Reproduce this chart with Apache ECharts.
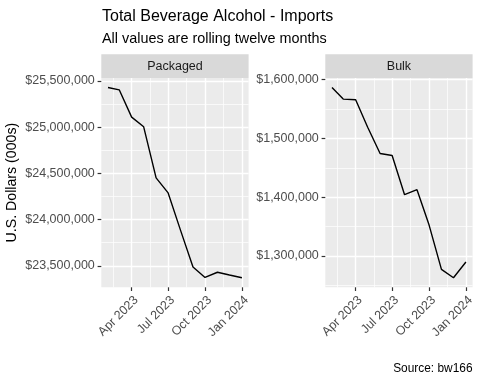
<!DOCTYPE html>
<html><head><meta charset="utf-8">
<script src="https://cdn.jsdelivr.net/npm/echarts@6/dist/echarts.min.js"></script>
<style>html,body{margin:0;padding:0;background:#fff}#c{width:480px;height:384px}</style>
</head><body><div id="c"></div>
<script>
// ---- data ----
const months = ['2023-02-01','2023-03-01','2023-04-01','2023-05-01','2023-06-01','2023-07-01',
                '2023-08-01','2023-09-01','2023-10-01','2023-11-01','2023-12-01','2024-01-01'];
const packaged = [25428000, 25403000, 25108000, 25003000, 24450000, 24288000,
                  23883000, 23486000, 23374000, 23430000, 23400000, 23370000];
const bulk = [1586700, 1567000, 1566000, 1519000, 1474400, 1471000,
              1404300, 1412800, 1353000, 1277200, 1262900, 1289700];
const xTickDates = ['2023-04-01','2023-07-01','2023-10-01','2024-01-01'];
const xTickLabels = ['Apr 2023','Jul 2023','Oct 2023','Jan 2024'];
const packagedTicks = [23500000, 24000000, 24500000, 25000000, 25500000];
const bulkTicks = [1300000, 1400000, 1500000, 1600000];
const facetNames = ['Packaged', 'Bulk'];

// ---- helpers ----
const FONT = 'Liberation Sans, Arial, Helvetica, sans-serif';
const AX = 12.5;
const t = s => Date.parse(s);
const xs = months.map(t);
const xTicks = xTickDates.map(t);
function expand(vals) {
  const lo = Math.min(...vals), hi = Math.max(...vals), r = hi - lo;
  return [lo - 0.05 * r, hi + 0.05 * r];
}
function minors(major, lo, hi) {
  const out = [];
  const step = major[1] - major[0];
  const ext = [major[0] - step].concat(major, [major[major.length - 1] + step]);
  for (let i = 0; i < ext.length - 1; i++) {
    const m = (ext[i] + ext[i + 1]) / 2;
    if (m >= lo && m <= hi) out.push(m);
  }
  return out;
}
const [xLo, xHi] = expand(xs);
const xMinor = minors(xTicks, xLo, xHi);
const money = v => '$' + Math.round(v).toLocaleString('en-US');

const panels = [
  { left: 101.3, vals: packaged, ticks: packagedTicks },
  { left: 325.3, vals: bulk, ticks: bulkTicks }
];
const PW = 147.3, PT = 78, PH = 209.3;

const grid = [], xAxis = [], yAxis = [], series = [], graphic = [];
panels.forEach((p, i) => {
  grid.push({ left: p.left, top: PT, width: PW, height: PH, show: true,
    backgroundColor: '#EBEBEB', borderWidth: 0, containLabel: false, outerBoundsMode: 'none' });
  const [yLo, yHi] = expand(p.vals);
  const yMinor = minors(p.ticks, yLo, yHi);
  // minor axes (grid lines only)
  xAxis.push({ type: 'value', gridIndex: i, min: xLo, max: xHi, position: 'bottom',
    axisLine: { show: false }, axisLabel: { show: false, customValues: xMinor },
    axisTick: { show: false, customValues: xMinor },
    splitLine: { show: true, lineStyle: { color: '#FFFFFF', width: 0.7 } }, z: 0 });
  yAxis.push({ type: 'value', gridIndex: i, min: yLo, max: yHi, position: 'left',
    axisLine: { show: false }, axisLabel: { show: false, customValues: yMinor },
    axisTick: { show: false, customValues: yMinor },
    splitLine: { show: true, lineStyle: { color: '#FFFFFF', width: 0.7 } }, z: 0 });
  // major axes
  xAxis.push({ type: 'value', gridIndex: i, min: xLo, max: xHi, position: 'bottom',
    axisLine: { show: false },
    axisTick: { show: true, length: 3.7, customValues: xTicks, lineStyle: { color: '#333333', width: 1.2 } },
    axisLabel: { show: true, customValues: xTicks, rotate: 45, margin: 6.3,
      align: 'right', verticalAlign: 'top',
      color: '#4D4D4D', fontSize: AX, fontFamily: FONT,
      formatter: v => { const k = xTicks.indexOf(v); return k >= 0 ? xTickLabels[k] : ''; } },
    splitLine: { show: true, lineStyle: { color: '#FFFFFF', width: 1.4 } }, z: 1 });
  yAxis.push({ type: 'value', gridIndex: i, min: yLo, max: yHi, position: 'left',
    axisLine: { show: false },
    axisTick: { show: true, length: 3.7, customValues: p.ticks, lineStyle: { color: '#333333', width: 1.2 } },
    axisLabel: { show: true, customValues: p.ticks, margin: 6.5,
      color: '#4D4D4D', fontSize: AX, fontFamily: FONT, formatter: money },
    splitLine: { show: true, lineStyle: { color: '#FFFFFF', width: 1.4 } }, z: 1 });
  series.push({ type: 'line', xAxisIndex: 2 * i + 1, yAxisIndex: 2 * i + 1,
    data: xs.map((x, k) => [x, p.vals[k]]), showSymbol: false, symbol: 'none',
    lineStyle: { color: '#000000', width: 1.4 }, animation: false, z: 5 });
  graphic.push({ type: 'rect', shape: { x: p.left, y: 54.3, width: PW, height: 23.7 },
    style: { fill: '#D9D9D9' } });
  graphic.push({ type: 'text', x: p.left + PW / 2, y: 66.2,
    style: { text: facetNames[i], align: 'center', verticalAlign: 'middle',
      fill: '#1A1A1A', fontSize: AX, fontFamily: FONT } });
});

graphic.push({ type: 'text', x: 102, y: 16.5, style: { text: 'Total Beverage Alcohol - Imports',
  align: 'left', verticalAlign: 'middle', fill: '#000000', fontSize: 16, fontFamily: FONT } });
graphic.push({ type: 'text', x: 102, y: 39, style: { text: 'All values are rolling twelve months',
  align: 'left', verticalAlign: 'middle', fill: '#000000', fontSize: 14.4, fontFamily: FONT } });
graphic.push({ type: 'text', x: 12, y: 182.6, rotation: Math.PI / 2, style: { text: 'U.S. Dollars (000s)',
  align: 'center', verticalAlign: 'middle', fill: '#000000', fontSize: 14.2, fontFamily: FONT } });
graphic.push({ type: 'text', x: 472.5, y: 369, style: { text: 'Source: bw166',
  align: 'right', verticalAlign: 'middle', fill: '#000000', fontSize: 11.9, fontFamily: FONT } });

const chart = echarts.init(document.getElementById('c'), null, { renderer: 'canvas' });
chart.setOption({ animation: false, backgroundColor: '#FFFFFF', grid, xAxis, yAxis, series, graphic });
</script></body></html>
